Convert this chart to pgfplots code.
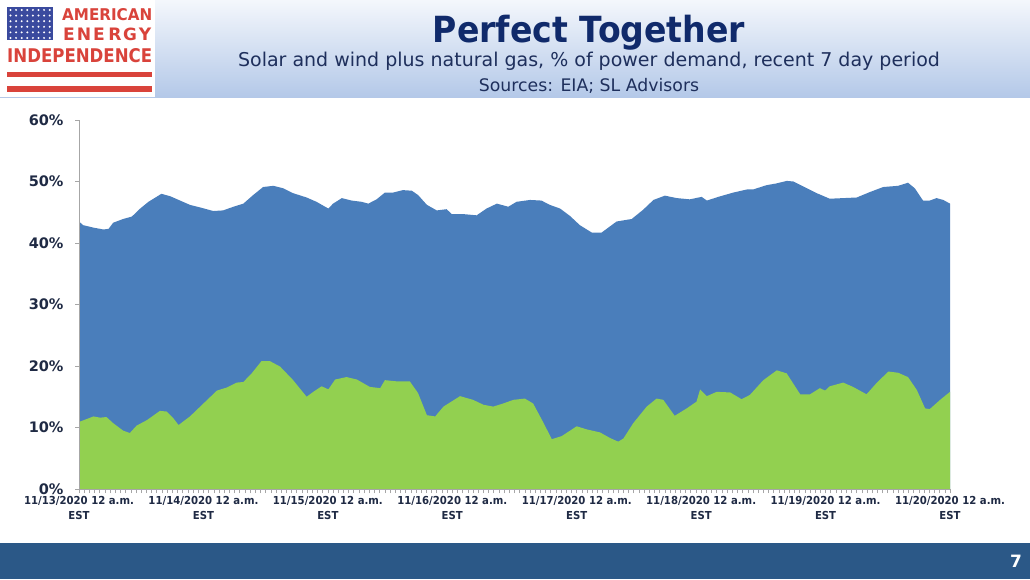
\documentclass[border=0pt]{standalone}
\usepackage{pgfplots}
\pgfplotsset{compat=1.18}
\usepackage{pgfplotstable}
\usepackage{graphicx}
\usepackage{fontspec}
\setmainfont{DejaVu Sans}
\newfontfamily\titlef[FakeStretch=0.92]{DejaVu Sans}
\newfontfamily\tickf[FakeStretch=0.92]{DejaVu Sans}
\definecolor{titleblue}{HTML}{102A6B}
\definecolor{subnavy}{HTML}{1E2F5C}
\definecolor{labnavy}{HTML}{1F2A44}
\definecolor{barblue}{HTML}{2B5887}
\definecolor{gasblue}{HTML}{4A7EBB}
\definecolor{rengreen}{HTML}{92D050}
\definecolor{logored}{HTML}{D9433B}
\definecolor{flagblue}{HTML}{3A4A9E}
\definecolor{hdrtop}{HTML}{F4F7FC}
\definecolor{hdrbot}{HTML}{B3C8E8}
\definecolor{axisgray}{HTML}{A6A6A6}

\pgfplotstableread{
h total
0 43.5
0.8 42.9
2.8 42.5
4.7 42.2
5.7 42.3
6.6 43.3
8.5 43.9
10.2 44.3
11.8 45.6
13.4 46.7
15.9 48.0
17.6 47.6
19.5 46.9
21.4 46.2
23.3 45.8
25.9 45.2
27.8 45.3
29.8 45.9
31.7 46.4
33.6 47.8
35.5 49.1
37.5 49.3
39.4 48.9
41.3 48.1
43.9 47.4
45.8 46.7
48.1 45.6
49.0 46.4
50.7 47.3
52.6 46.9
54.5 46.7
55.8 46.4
57.4 47.1
59.0 48.2
60.6 48.2
62.5 48.6
64.2 48.5
65.4 47.8
67.1 46.2
69.0 45.3
70.9 45.5
71.9 44.7
74.1 44.7
76.7 44.5
78.6 45.6
80.6 46.4
82.8 45.9
84.4 46.7
87.0 47.0
89.2 46.9
90.8 46.2
92.8 45.6
94.7 44.4
96.6 42.9
98.9 41.7
100.8 41.7
103.7 43.5
106.6 43.9
108.8 45.4
110.8 47.0
113.0 47.7
115.3 47.3
117.8 47.1
120.1 47.5
121.1 46.9
123.3 47.5
126.2 48.2
128.8 48.7
130.0 48.7
132.6 49.4
134.6 49.7
136.5 50.1
137.8 50.0
139.7 49.2
142.3 48.1
144.8 47.2
147.4 47.3
150.0 47.4
152.6 48.3
155.1 49.1
158.0 49.3
159.9 49.8
161.2 48.9
162.8 46.9
164.1 46.9
165.4 47.3
166.7 47.0
168 46.4
}\totaltable

\pgfplotstableread{
h renew
0 10.9
2.8 11.8
4.1 11.6
5.3 11.7
6.6 10.7
8.5 9.5
9.8 9.1
11.1 10.3
13.1 11.2
15.6 12.7
16.9 12.6
18.2 11.5
19.2 10.4
21.4 11.8
24.0 13.9
26.6 16.0
28.5 16.5
30.4 17.3
31.7 17.4
33.3 18.8
35.2 20.8
36.8 20.8
38.8 19.9
41.3 17.7
43.9 15.0
45.2 15.8
46.8 16.7
48.1 16.2
49.4 17.8
51.6 18.2
53.6 17.8
56.1 16.6
58.1 16.4
59.0 17.7
61.3 17.5
63.8 17.5
65.4 15.6
67.1 12.0
68.7 11.8
70.3 13.4
73.5 15.1
76.0 14.5
78.0 13.7
79.9 13.4
81.8 13.9
83.8 14.5
86.0 14.7
87.6 13.9
89.5 10.9
91.2 8.1
93.1 8.6
96.0 10.2
97.9 9.7
100.5 9.2
102.4 8.3
104.0 7.7
105.0 8.2
106.9 10.7
109.5 13.4
111.4 14.7
112.7 14.5
114.9 11.9
117.2 13.1
119.1 14.2
119.8 16.2
121.1 15.1
123.0 15.8
125.6 15.7
127.8 14.6
129.4 15.3
132.0 17.7
134.6 19.3
136.5 18.8
139.1 15.4
141.0 15.4
142.9 16.4
143.9 16.0
144.8 16.7
147.4 17.3
149.3 16.6
151.9 15.4
153.8 17.2
156.1 19.1
158.0 18.9
159.9 18.2
161.6 16.1
163.2 13.1
164.1 13.0
166.1 14.5
168 15.8
}\renewtable

\begin{document}
\begin{tikzpicture}[x=1pt,y=1pt]
\useasboundingbox (0,0) rectangle (1030,579);
\fill[white] (0,0) rectangle (1030,579);
% header
\shade[top color=hdrtop, bottom color=hdrbot] (0,481) rectangle (1030,579);
\fill[white] (0,482) rectangle (155,579);
% logo
\fill[flagblue] (7,539) rectangle (53,572);
\foreach \i in {0,...,7} {\foreach \j in {0,...,5} {\fill[white] ({10.5+\i*5.6},{569-\j*5.6}) circle (1.1);}}
\node[anchor=base west, inner sep=0, text=logored] at (62,558) {\resizebox{90pt}{12pt}{\bfseries AMERICAN}};
\foreach \l/\xx in {E/69,N/84,E/99,R/115,G/130,Y/145} {\node[anchor=base, inner sep=0, text=logored] at (\xx,538) {\resizebox{!}{12.5pt}{\bfseries \l}};}
\node[anchor=base west, inner sep=0, text=logored] at (7,516) {\resizebox{145pt}{14pt}{\bfseries INDEPENDENCE}};
\fill[logored] (7,502) rectangle (152,507);
\fill[logored] (7,487) rectangle (152,493);
% titles
\node[anchor=base, inner sep=0, text=titleblue] at (589,536) {\titlef\bfseries\fontsize{36}{40}\selectfont Perfect Together};
\node[anchor=base, inner sep=0, text=subnavy] at (589,512) {\fontsize{19}{22}\selectfont Solar and wind plus natural gas, \% of power demand, recent 7 day period};
\node[anchor=base, inner sep=0, text=subnavy] at (589,487) {\fontsize{17.3}{20}\selectfont Sources: EIA; SL Advisors};
% bottom bar
\fill[barblue] (0,0) rectangle (1030,36);
\node[anchor=center, inner sep=0, text=white] at (1016,18) {\bfseries\fontsize{17}{20}\selectfont 7};

\begin{axis}[
  at={(79pt,90pt)}, anchor=south west,
  scale only axis, width=871pt, height=369pt,
  xmin=0, xmax=168, ymin=0, ymax=60,
  axis lines=left,
  axis line style={draw=axisgray, line width=0.8pt, -},
  axis on top,
  ytick={0,10,...,60},
  yticklabels={0\%,10\%,20\%,30\%,40\%,50\%,60\%},
  xtick={0,24,...,168},
  xticklabels={{11/13/2020 12 a.m.\\EST},{11/14/2020 12 a.m.\\EST},{11/15/2020 12 a.m.\\EST},{11/16/2020 12 a.m.\\EST},{11/17/2020 12 a.m.\\EST},{11/18/2020 12 a.m.\\EST},{11/19/2020 12 a.m.\\EST},{11/20/2020 12 a.m.\\EST}},
  minor xtick={0,1,...,168},
  tick align=outside,
  tick style={draw=axisgray, line width=0.6pt},
  major tick length=4pt, minor tick length=4pt,
  yticklabel style={font=\bfseries\fontsize{14.5}{16}\selectfont, text=labnavy, xshift=-8pt},
  xticklabel style={font=\tickf\bfseries\fontsize{11}{15}\selectfont, text=labnavy, align=center},
]
\addplot[fill=gasblue, draw=none] table[x=h, y=total] {\totaltable} \closedcycle;
\addplot[fill=rengreen, draw=none] table[x=h, y=renew] {\renewtable} \closedcycle;
\end{axis}
\end{tikzpicture}
\end{document}
